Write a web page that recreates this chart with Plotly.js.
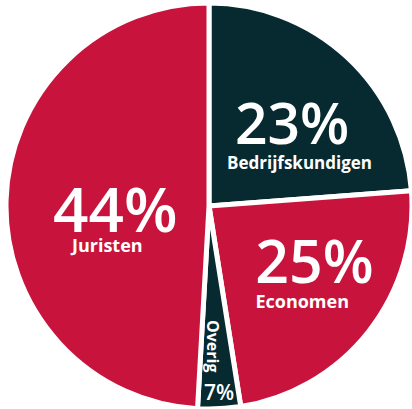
<!DOCTYPE html>
<html>
<head>
<meta charset="utf-8">
<script src="https://cdn.plot.ly/plotly-3.0.1.min.js"></script>
<style>html,body{margin:0;padding:0;background:#fff;}#chart{width:412px;height:409px;}</style>
</head>
<body>
<div id="chart"></div>
<script>
// Categories, clockwise from 12 o'clock
var categories = ["Bedrijfskundigen", "Economen", "Overig", "Juristen"];
// Printed percentages on the chart
var percentLabels = ["23%", "25%", "7%", "44%"];
// Slice sizes as drawn in the picture (arc angles)
var sliceSizes = [23.8, 23.7, 3.4, 49.1];
var sliceColors = ["#062a30", "#c8143c", "#062a30", "#c8143c"];

var W = 412, H = 409;
function px(x){ return x / W; }
function py(y){ return 1 - y / H; }
var NB = "&nbsp;";
function rep(s, n){ var o = ""; for (var k = 0; k < n; k++) o += s; return o; }

// label styling/placement per category:
// x, y (px centre of the block), number size, name size, line size (spacing),
// leading/trailing nbsp for number and name (fine horizontal offsets)
var labelStyle = [
  {x: 299, y: 129, ns: 57, ls: 17, base: 19.2, nLead: 0, nTrail: 1, lTrail: 0},
  {x: 307, y: 266, ns: 59, ls: 18, base: 19.2, nLead: 1, nTrail: 0, lTrail: 2},
  null,
  {x: 107, y: 211, ns: 62, ls: 18, base: 15.6, nLead: 1, nTrail: 0, lTrail: 0}
];

var annotations = [];
for (var i = 0; i < categories.length; i++) {
  var s = labelStyle[i];
  if (!s) continue;
  var txt = "<span style='font-size:" + s.ns + "px;font-weight:600'>" +
            rep(NB, s.nLead) + percentLabels[i] + rep(NB, s.nTrail) + "</span><br>" +
            "<span style='font-size:" + s.ls + "px'>" + categories[i] + rep(NB, s.lTrail) + "</span>";
  annotations.push({
    xref: "paper", yref: "paper", x: px(s.x), y: py(s.y),
    xanchor: "center", yanchor: "middle", showarrow: false, borderpad: 0,
    align: "center", text: txt,
    font: {family: "Open Sans", size: s.base, color: "#ffffff", weight: 700}
  });
}
// the narrow "Overig" slice: rotated name and percentage below it
annotations.push({
  xref: "paper", yref: "paper", x: px(213), y: py(346),
  xanchor: "center", yanchor: "middle", showarrow: false, textangle: 90, borderpad: 0,
  text: categories[2],
  font: {family: "Open Sans", size: 16, color: "#ffffff", weight: 700}
});
annotations.push({
  xref: "paper", yref: "paper", x: px(219), y: py(392),
  xanchor: "center", yanchor: "middle", showarrow: false, borderpad: 0,
  text: percentLabels[2],
  font: {family: "Open Sans", size: 21, color: "#ffffff", weight: 600}
});

var cx = 209, cy = 206, r = 203;
var trace = {
  type: "pie",
  labels: categories,
  values: sliceSizes,
  sort: false,
  direction: "clockwise",
  rotation: 0,
  textinfo: "none",
  hoverinfo: "none",
  showlegend: false,
  marker: {colors: sliceColors, line: {color: "#ffffff", width: 5}},
  domain: {x: [px(cx - r), px(cx + r)], y: [py(cy + r), py(cy - r)]}
};

var layout = {
  width: W, height: H,
  margin: {l: 0, r: 0, t: 0, b: 0},
  paper_bgcolor: "#ffffff",
  showlegend: false,
  annotations: annotations
};

Plotly.newPlot("chart", [trace], layout, {staticPlot: true, displayModeBar: false});
</script>
</body>
</html>
